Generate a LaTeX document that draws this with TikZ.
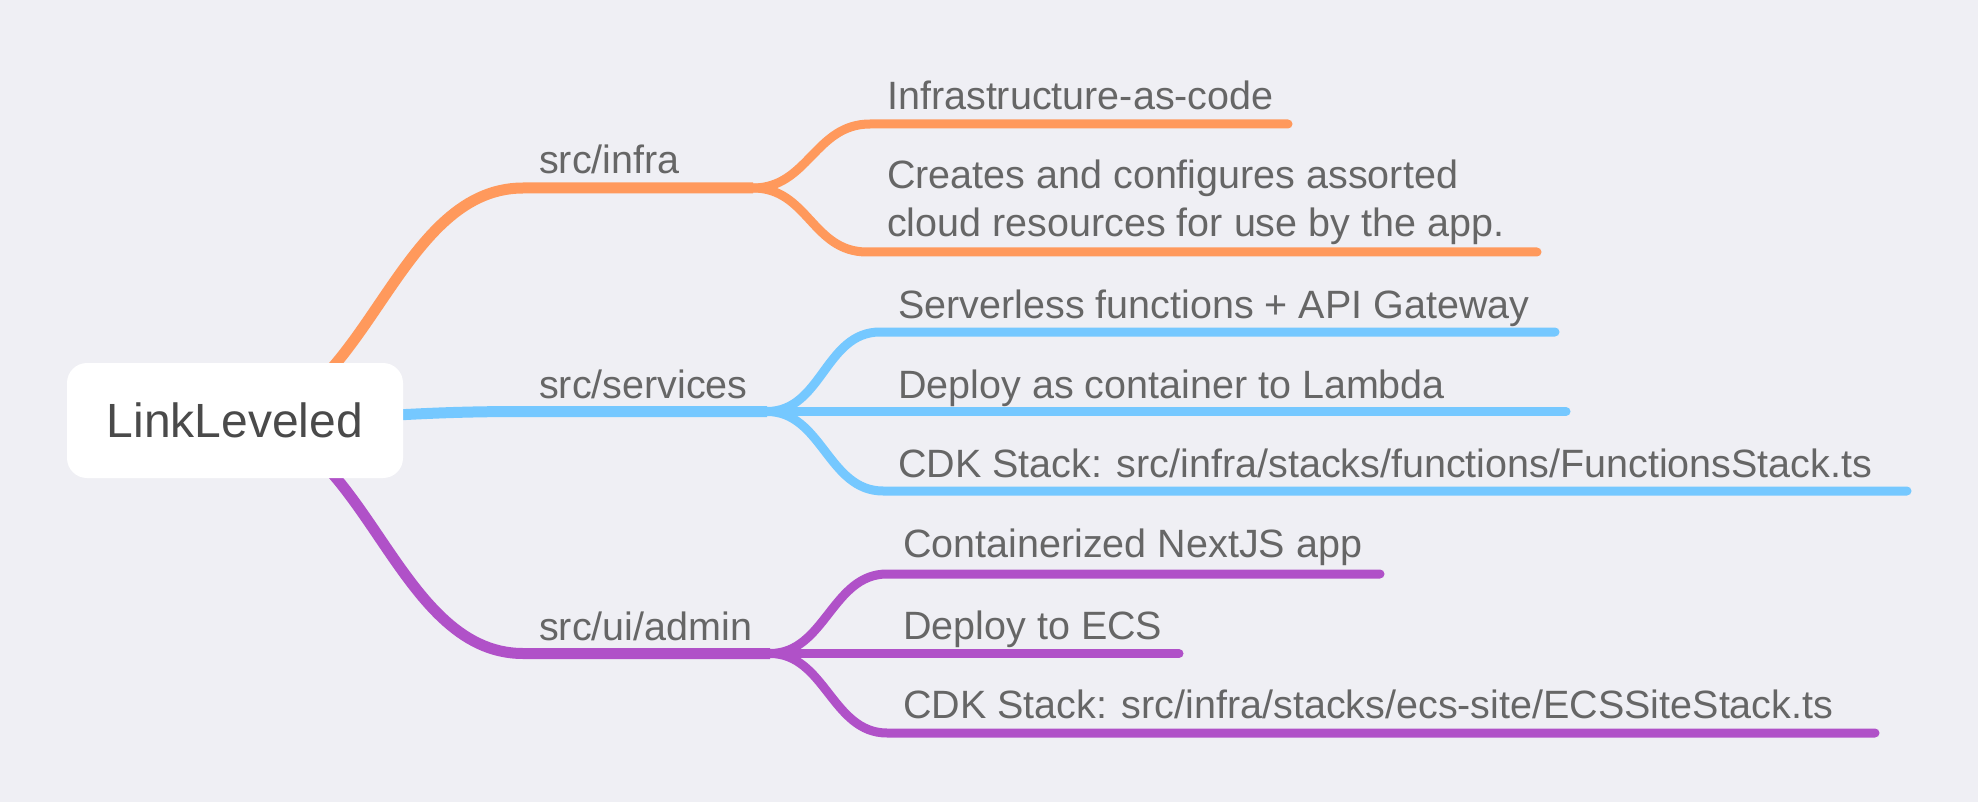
\documentclass[tikz,border=0pt]{standalone}
\usepackage{fontspec}
\setmainfont{Liberation Sans}
\definecolor{bg}{HTML}{EFEFF4}
\definecolor{orng}{HTML}{FF995C}
\definecolor{blu}{HTML}{75C8FF}
\definecolor{purp}{HTML}{B051C8}
\definecolor{txt}{HTML}{666666}
\definecolor{roottxt}{HTML}{4A4A4A}
\begin{document}
\begin{tikzpicture}[x=1pt,y=-1pt,
  mainbr/.style={line width=11pt},
  subbr/.style={line width=9pt, line cap=round},
  lbl/.style={anchor=base west, inner sep=0pt, text=txt, font=\fontsize{39.5}{48}\selectfont, align=left},
  rootbox/.style={fill=white, rounded corners=20pt, minimum width=336pt, minimum height=115pt, inner sep=0pt, text=roottxt, font=\fontsize{48}{58}\selectfont}]
\useasboundingbox[fill=bg] (0,0) rectangle (1978,802);

\coordinate (rc) at (235,420.5);
% orange branch
\coordinate (oS) at (523,188);
\coordinate (oF) at (753,188);
\coordinate (o1s) at (870,124); \coordinate (o1e) at (1288,124);
\coordinate (o2s) at (867,252); \coordinate (o2e) at (1537,252);
% blue branch
\coordinate (bS) at (523,411.5);
\coordinate (bF) at (767,411.5);
\coordinate (b1s) at (880,332); \coordinate (b1e) at (1555,332);
\coordinate (b2e) at (1566,411.5);
\coordinate (b3s) at (883,491); \coordinate (b3e) at (1907,491);
% purple branch
\coordinate (pS) at (523,653.5);
\coordinate (pF) at (770,653.5);
\coordinate (p1s) at (887,574); \coordinate (p1e) at (1380,574);
\coordinate (p2e) at (1179,653.5);
\coordinate (p3s) at (887,733); \coordinate (p3e) at (1875,733);

\draw[mainbr, orng] (rc) .. controls +(130,0) and +(-130,0) .. (oS) -- (oF);
\draw[subbr, orng] (oF) .. controls +(55,0) and +(-55,0) .. (o1s) -- (o1e);
\draw[subbr, orng] (oF) .. controls +(55,0) and +(-55,0) .. (o2s) -- (o2e);

\draw[mainbr, blu] (rc) .. controls +(130,0) and +(-130,0) .. (bS) -- (bF);
\draw[subbr, blu] (bF) .. controls +(55,0) and +(-55,0) .. (b1s) -- (b1e);
\draw[subbr, blu] (bF) -- (b2e);
\draw[subbr, blu] (bF) .. controls +(55,0) and +(-55,0) .. (b3s) -- (b3e);

\draw[mainbr, purp] (rc) .. controls +(130,0) and +(-130,0) .. (pS) -- (pF);
\draw[subbr, purp] (pF) .. controls +(55,0) and +(-55,0) .. (p1s) -- (p1e);
\draw[subbr, purp] (pF) -- (p2e);
\draw[subbr, purp] (pF) .. controls +(55,0) and +(-55,0) .. (p3s) -- (p3e);

\node[rootbox] (root) at (rc) {LinkLeveled};

\node[lbl] (infra) at (539,174) {src/infra};
\node[lbl] (services) at (539,398) {src/services};
\node[lbl] (admin) at (539,640) {src/ui/admin};

\node[lbl] (iac) at (887,110) {Infrastructure-as-code};
\node[lbl] (creates) at (887,237) {Creates and configures assorted\\cloud resources for use by the app.};

\node[lbl] (sls) at (898,318) {Serverless functions + API Gateway};
\node[lbl] (lambda) at (898,398) {Deploy as container to Lambda};
\node[lbl] (fstack) at (898,477) {CDK Stack: src/infra/stacks/functions/FunctionsStack.ts};

\node[lbl] (next) at (903,557) {Containerized NextJS app};
\node[lbl] (ecs) at (903,639) {Deploy to ECS};
\node[lbl] (estack) at (903,718) {CDK Stack: src/infra/stacks/ecs-site/ECSSiteStack.ts};
\end{tikzpicture}
\end{document}
